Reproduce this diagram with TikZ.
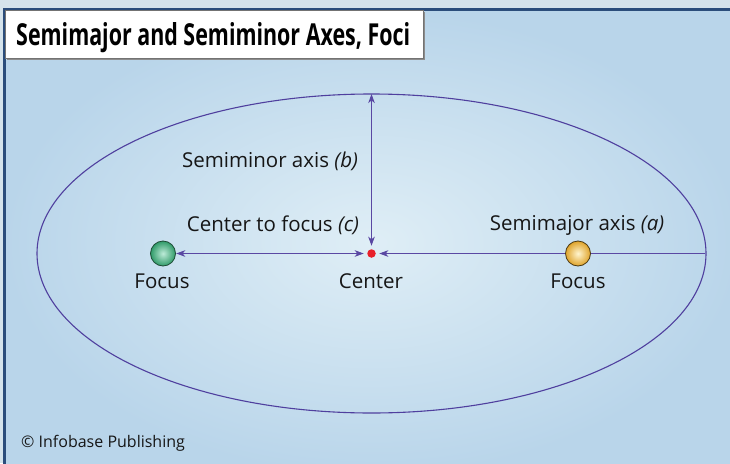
\documentclass[tikz,border=0pt]{standalone}
\usepackage{fontspec}
\setmainfont{Open Sans}
\usetikzlibrary{arrows.meta,positioning,calc,shapes.geometric}
\definecolor{ink}{HTML}{161616}
\definecolor{strip}{HTML}{D5E3EB}
\definecolor{framebd}{HTML}{2B4D7B}
\definecolor{bgin}{HTML}{DFEEF6}
\definecolor{bgout}{HTML}{B9D5EA}
\definecolor{orbit}{HTML}{4F3F9E}
\definecolor{axisc}{HTML}{5A48A3}
\definecolor{greenin}{HTML}{BDEBD8}
\definecolor{greenout}{HTML}{2F9A68}
\definecolor{greenbd}{HTML}{1D4A34}
\definecolor{goldin}{HTML}{FFF5CF}
\definecolor{goldout}{HTML}{DFA32A}
\definecolor{goldbd}{HTML}{4A3710}
\definecolor{dotred}{HTML}{E8202A}
\tikzset{
  >={Stealth[length=9pt,width=6.5pt,inset=2.5pt]},
  label/.style={font=\fontsize{20.5}{24}\selectfont,text=ink,inner sep=0pt},
  axisline/.style={line width=1.1pt,color=axisc},
  ball/.style={circle,minimum size=26pt,inner sep=0pt},
}

\begin{document}
\begin{tikzpicture}[x=1pt,y=-1pt]
  \useasboundingbox (0,0) rectangle (730,463);
  \clip (0,0) rectangle (730,463);
  \fill[strip] (0,0) rectangle (730,463);
  \shade[inner color=bgin,outer color=bgout] (4,9.5) rectangle (740,475);
  \draw[framebd,line width=3pt] (4,9.5) rectangle (740,475);

  % title card
  \fill[black!45] (7,12) rectangle (425,60);
  \node[draw=black!55,fill=white,line width=.4pt,minimum width=418pt,minimum height=48pt,
    anchor=north west,inner sep=0pt] (ttl) at (5,10) {};
  \node[anchor=base west,text=black,inner sep=0pt] (ttltext) at (16,45)
    {\resizebox{394pt}{23pt}{\bfseries Semimajor and Semiminor Axes, Foci}};

  % orbit
  \draw[orbit,line width=1.1pt] (371.5,253.5) ellipse [x radius=334.5,y radius=159.5];
  \coordinate (top) at (371.5,94);
  \coordinate (rgt) at (705,253.5);

  \node[circle,fill=dotred,minimum size=8.5pt,inner sep=0pt,outer sep=3.5pt] (ctr) at (371.5,253.5) {};
  \node[ball] (fl) at (163,253.5) {};
  \node[ball] (fr) at (578,253.5) {};

  \draw[axisline,<->] (ctr) -- (top);
  \draw[axisline,<->] (fl) -- (ctr);
  \draw[axisline,<-] (ctr) -- (rgt);

  \shade[inner color=greenin,outer color=greenout] (fl) circle (12.5);
  \draw[greenbd,line width=.8pt] (fl) circle (12.5);
  \shade[inner color=goldin,outer color=goldout] (fr) circle (12.5);
  \draw[goldbd,line width=.8pt] (fr) circle (12.5);

  \node[label] (lb) at (270,161) {Semiminor axis \textit{(b)}};
  \node[label] (lc) at (273,225) {Center to focus \textit{(c)}};
  \node[label] (la) at (577,225) {Semimajor axis \textit{(a)}};
  \node[label] (nfl) at (162,281) {Focus};
  \node[label] (nctr) at (371,281) {Center};
  \node[label] (nfr) at (578,281) {Focus};

  \node[anchor=west,font=\fontsize{16}{18}\selectfont,text=ink,inner sep=0pt] (cpy) at (21,443.5)
    {\textcopyright\ Infobase Publishing};
\end{tikzpicture}
\end{document}
